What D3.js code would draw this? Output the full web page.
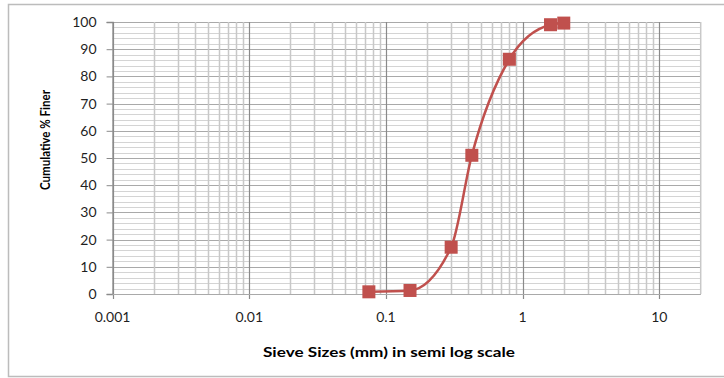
<!DOCTYPE html>
<meta charset="utf-8">
<style>
  body { margin: 0; background: #fff; }
  text { font-family: Lato, "Open Sans", sans-serif; fill: #1f1f1f; }
  .tick-label { font-size: 14px; }
  .axis-title { font-size: 13px; font-weight: bold; fill: #000; }
</style>
<svg width="724" height="378"></svg>
<script src="https://cdn.jsdelivr.net/npm/d3@7/dist/d3.min.js"></script>
<script>

  // sieve sizes (mm) and cumulative % finer
  var sieveSizes = [0.075, 0.15, 0.3, 0.425, 0.8, 1.6, 2];
  var percentFiner = [0.8, 1.3, 17.2, 51, 86.3, 99, 99.6];

  var xTickValues = [0.001, 0.01, 0.1, 1, 10];
  var xTickLabels = ["0.001", "0.01", "0.1", "1", "10"];
  var yTickValues = [0, 10, 20, 30, 40, 50, 60, 70, 80, 90, 100];

  var svg = d3.select("svg");

  // outer frame
  svg.append("path")
        .attr("d", "M724,4.5H8.5V376.5H724")
        .attr("fill", "none")
        .attr("stroke", "#bcbcbc")
        .attr("stroke-width", 1.5);

  // plot area edges
  var pLeft = 112.6, pRight = 700.7, pTop = 22, pBottom = 294;

  var x = d3.scaleLog().domain([0.001, 10]).range([pLeft, 659.3]);
  var y = d3.scaleLinear().domain([0, 100]).range([pBottom, pTop]);

  var grid = svg.append("g");

  // horizontal grid: minor every 2, major every 10
  d3.range(0, 101, 2).forEach(function (v) {
    grid.append("line")
          .attr("x1", pLeft).attr("x2", pRight)
          .attr("y1", Math.round(y(v)) + 0.5).attr("y2", Math.round(y(v)) + 0.5)
          .attr("stroke", v % 10 === 0 ? "#a9a9a9" : "#d4d4d4")
          .attr("stroke-width", 1);
  });

  // vertical grid: minor 2..9 per decade, major at decades
  var minorX = [];
  [0.001, 0.01, 0.1, 1].forEach(function (d) {
    for (var k = 2; k <= 9; k++) minorX.push(d * k);
  });
  grid.selectAll(".vminor").data(minorX).enter().append("line")
        .attr("x1", function (d) { return Math.round(x(d)) + 0.5; })
        .attr("x2", function (d) { return Math.round(x(d)) + 0.5; })
        .attr("y1", pTop).attr("y2", pBottom)
        .attr("stroke", "#c8c8c8")
        .attr("stroke-width", 1.5);

  grid.selectAll(".vmajor").data(xTickValues).enter().append("line")
        .attr("x1", function (d) { return Math.round(x(d)) + 0.5; })
        .attr("x2", function (d) { return Math.round(x(d)) + 0.5; })
        .attr("y1", pTop).attr("y2", pBottom + 5)
        .attr("stroke", "#8a8a8a")
        .attr("stroke-width", 1.2);

  // right border of plot area
  grid.append("line")
        .attr("x1", pRight).attr("x2", pRight)
        .attr("y1", pTop).attr("y2", pBottom)
        .attr("stroke", "#c8c8c8")
        .attr("stroke-width", 1.5);

  // y axis
  var yAxis = svg.append("g")
        .attr("transform", "translate(" + pLeft + ",0)")
        .call(d3.axisLeft(y).tickValues(yTickValues).tickSize(6).tickPadding(10));
  yAxis.select(".domain").attr("stroke", "#8a8a8a").attr("stroke-width", 1.5);
  yAxis.selectAll(".tick line").attr("stroke", "#8a8a8a");
  yAxis.selectAll(".tick text").attr("class", "tick-label");
  yAxis.attr("font-family", null).attr("font-size", null);

  // x axis labels
  svg.selectAll(".xlab").data(xTickValues).enter().append("text")
        .attr("class", "tick-label")
        .attr("x", function (d) { return x(d); })
        .attr("y", 322)
        .attr("text-anchor", "middle")
        .text(function (d, i) { return xTickLabels[i]; });

  // x axis baseline
  svg.append("line")
        .attr("x1", pLeft).attr("x2", pRight)
        .attr("y1", pBottom + 0.5).attr("y2", pBottom + 0.5)
        .attr("stroke", "#a9a9a9");

  // smoothed curve
  var pts = sieveSizes.map(function (s, i) { return [x(s), y(percentFiner[i])]; });
  svg.append("path")
        .attr("d", d3.line().curve(d3.curveMonotoneX)(pts))
        .attr("fill", "none")
        .attr("stroke", "#c0504d")
        .attr("stroke-width", 2.5);

  svg.selectAll(".marker").data(pts).enter().append("rect")
        .attr("x", function (d) { return d[0] - 6.5; })
        .attr("y", function (d) { return d[1] - 6.5; })
        .attr("width", 13).attr("height", 13)
        .attr("fill", "#c0504d");

  // titles
  svg.append("text")
        .attr("class", "axis-title")
        .attr("x", 389).attr("y", 357)
        .attr("text-anchor", "middle")
        .attr("textLength", 252).attr("lengthAdjust", "spacingAndGlyphs")
        .text("Sieve Sizes (mm) in semi log scale");

  svg.append("text")
        .attr("class", "axis-title")
        .attr("transform", "translate(50,140) rotate(-90)")
        .attr("text-anchor", "middle")
        .style("font-size", "14px")
        .attr("textLength", 100).attr("lengthAdjust", "spacingAndGlyphs")
        .text("Cumulative % Finer");

</script>
